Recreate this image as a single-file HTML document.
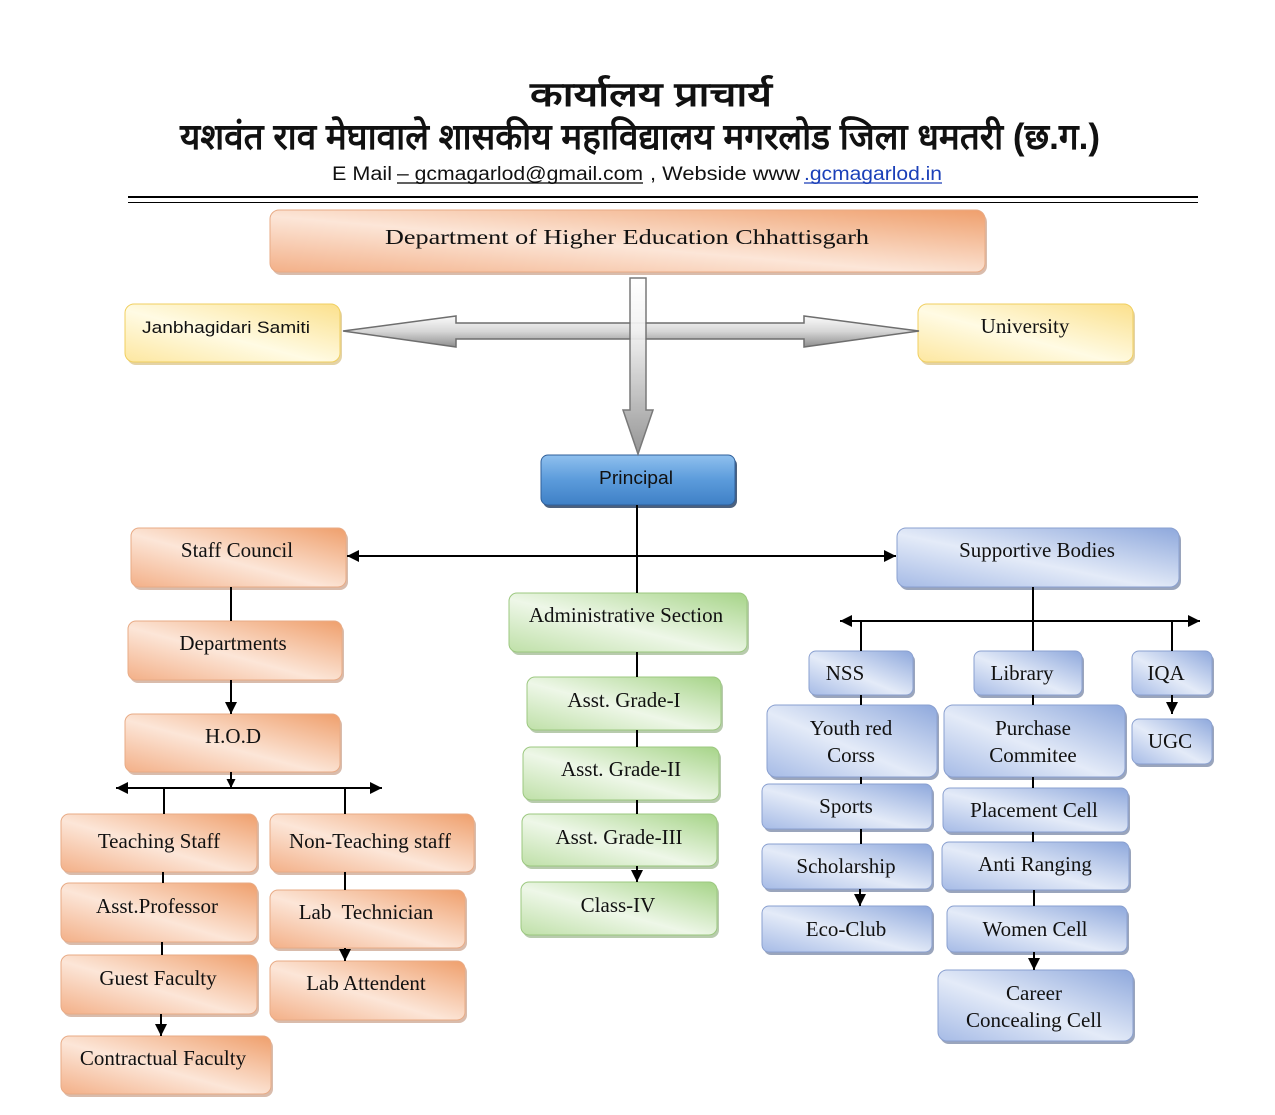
<!DOCTYPE html>
<html>
<head>
<meta charset="utf-8">
<style>
html,body{margin:0;padding:0;background:#fff;}
svg{display:block;}
.s{font-family:"Liberation Serif","DejaVu Serif",serif;font-size:21px;fill:#111;text-anchor:middle;}
.a{font-family:"Liberation Sans","DejaVu Sans",sans-serif;fill:#111;}
.ln{stroke:#000;stroke-width:2;fill:none;}
</style>
</head>
<body>
<svg width="1275" height="1115" viewBox="0 0 1275 1115" xmlns="http://www.w3.org/2000/svg">
<defs>
<linearGradient id="og" x1="0" y1="1" x2="1" y2="0">
<stop offset="0" stop-color="#f3b088"/><stop offset="0.45" stop-color="#fce6d8"/><stop offset="1" stop-color="#ef9f6c"/>
</linearGradient>
<linearGradient id="yg" x1="0" y1="1" x2="1" y2="0">
<stop offset="0" stop-color="#fde7a0"/><stop offset="0.45" stop-color="#fffbe4"/><stop offset="1" stop-color="#fbe08c"/>
</linearGradient>
<linearGradient id="bg" x1="0" y1="1" x2="1" y2="0">
<stop offset="0" stop-color="#a6bbe6"/><stop offset="0.45" stop-color="#e4ebf8"/><stop offset="1" stop-color="#8ea8dc"/>
</linearGradient>
<linearGradient id="gg" x1="0" y1="1" x2="1" y2="0">
<stop offset="0" stop-color="#bfe0a8"/><stop offset="0.45" stop-color="#eef7e8"/><stop offset="1" stop-color="#a6d488"/>
</linearGradient>
<linearGradient id="pg" x1="0" y1="0" x2="0" y2="1">
<stop offset="0" stop-color="#8fc0ee"/><stop offset="0.5" stop-color="#5b9bdb"/><stop offset="1" stop-color="#3f80c6"/>
</linearGradient>
<linearGradient id="vag" gradientUnits="userSpaceOnUse" x1="0" y1="278" x2="0" y2="455">
<stop offset="0" stop-color="#ffffff"/><stop offset="0.3" stop-color="#f2f2f2"/><stop offset="1" stop-color="#8c8c8c"/>
</linearGradient>
<linearGradient id="hag" gradientUnits="userSpaceOnUse" x1="0" y1="316" x2="0" y2="347">
<stop offset="0" stop-color="#fbfbfb"/><stop offset="0.5" stop-color="#d6d6d6"/><stop offset="1" stop-color="#8e8e8e"/>
</linearGradient>
<marker id="ar" viewBox="0 0 10 10" refX="10" refY="5" markerWidth="9" markerHeight="9" orient="auto" markerUnits="userSpaceOnUse">
<path d="M0,0 L10,5 L0,10 z" fill="#000"/>
</marker>
<marker id="ar2" viewBox="0 0 12 12" refX="12" refY="6" markerWidth="12" markerHeight="12" orient="auto" markerUnits="userSpaceOnUse">
<path d="M0,0 L12,6 L0,12 z" fill="#000"/>
</marker>
</defs>

<!-- Header -->
<text class="a" x="651" y="106" text-anchor="middle" font-size="34" font-weight="bold" textLength="242" lengthAdjust="spacingAndGlyphs">कार्यालय  प्राचार्य</text>
<text class="a" x="640" y="149" text-anchor="middle" font-size="36" font-weight="bold" textLength="920" lengthAdjust="spacingAndGlyphs">यशवंत राव मेघावाले शासकीय महाविद्यालय मगरलोड जिला धमतरी (छ.ग.)</text>
<text class="a" x="332" y="180" font-size="19" textLength="60" lengthAdjust="spacingAndGlyphs">E Mail</text>
<text class="a" x="397" y="180" font-size="19" textLength="246" lengthAdjust="spacingAndGlyphs">– gcmagarlod@gmail.com</text>
<line x1="397" y1="183" x2="643" y2="183" stroke="#000" stroke-width="1.3"/>
<text class="a" x="650" y="180" font-size="19" textLength="150" lengthAdjust="spacingAndGlyphs">, Webside www</text>
<text class="a" x="804" y="180" font-size="19" textLength="138" lengthAdjust="spacingAndGlyphs" style="fill:#1a3fb8">.gcmagarlod.in</text>
<line x1="804" y1="183" x2="942" y2="183" stroke="#1a3fb8" stroke-width="1.3"/>
<line x1="128" y1="197" x2="1198" y2="197" stroke="#000" stroke-width="2"/>
<line x1="128" y1="202.5" x2="1198" y2="202.5" stroke="#000" stroke-width="1"/>

<!-- Boxes -->
<g id="boxes">
<!-- orange -->
<g>
<rect x="272" y="213" width="715" height="62" rx="9" fill="#c9a089" opacity="0.7"/>
<rect x="270" y="210" width="715" height="62" rx="9" fill="url(#og)" stroke="#e8ab86" stroke-width="1"/>
<text class="s" x="627" y="244" font-size="26" textLength="484" lengthAdjust="spacingAndGlyphs">Department of Higher Education Chhattisgarh</text>
</g>
<g>
<rect x="133" y="531" width="215" height="59" rx="8" fill="#c9a089" opacity="0.7"/>
<rect x="131" y="528" width="215" height="59" rx="8" fill="url(#og)" stroke="#e8ab86"/>
<text class="s" x="237" y="557">Staff Council</text>
</g>
<g>
<rect x="130" y="624" width="214" height="59" rx="8" fill="#c9a089" opacity="0.7"/>
<rect x="128" y="621" width="214" height="59" rx="8" fill="url(#og)" stroke="#e8ab86"/>
<text class="s" x="233" y="650">Departments</text>
</g>
<g>
<rect x="127" y="717" width="215" height="58" rx="8" fill="#c9a089" opacity="0.7"/>
<rect x="125" y="714" width="215" height="58" rx="8" fill="url(#og)" stroke="#e8ab86"/>
<text class="s" x="233" y="743">H.O.D</text>
</g>
<g>
<rect x="63" y="817" width="196" height="58" rx="8" fill="#c9a089" opacity="0.7"/>
<rect x="61" y="814" width="196" height="58" rx="8" fill="url(#og)" stroke="#e8ab86"/>
<text class="s" x="159" y="848">Teaching Staff</text>
</g>
<g>
<rect x="272" y="817" width="204" height="58" rx="8" fill="#c9a089" opacity="0.7"/>
<rect x="270" y="814" width="204" height="58" rx="8" fill="url(#og)" stroke="#e8ab86"/>
<text class="s" x="370" y="848">Non-Teaching staff</text>
</g>
<g>
<rect x="63" y="886" width="196" height="59" rx="8" fill="#c9a089" opacity="0.7"/>
<rect x="61" y="883" width="196" height="59" rx="8" fill="url(#og)" stroke="#e8ab86"/>
<text class="s" x="157" y="913">Asst.Professor</text>
</g>
<g>
<rect x="272" y="893" width="195" height="58" rx="8" fill="#c9a089" opacity="0.7"/>
<rect x="270" y="890" width="195" height="58" rx="8" fill="url(#og)" stroke="#e8ab86"/>
<text class="s" x="366" y="919" xml:space="preserve">Lab  Technician</text>
</g>
<g>
<rect x="63" y="958" width="196" height="59" rx="8" fill="#c9a089" opacity="0.7"/>
<rect x="61" y="955" width="196" height="59" rx="8" fill="url(#og)" stroke="#e8ab86"/>
<text class="s" x="158" y="985">Guest Faculty</text>
</g>
<g>
<rect x="272" y="964" width="195" height="59" rx="8" fill="#c9a089" opacity="0.7"/>
<rect x="270" y="961" width="195" height="59" rx="8" fill="url(#og)" stroke="#e8ab86"/>
<text class="s" x="366" y="990">Lab Attendent</text>
</g>
<g>
<rect x="63" y="1039" width="210" height="58" rx="8" fill="#c9a089" opacity="0.7"/>
<rect x="61" y="1036" width="210" height="58" rx="8" fill="url(#og)" stroke="#e8ab86"/>
<text class="s" x="163" y="1065">Contractual Faculty</text>
</g>

<!-- yellow -->
<g>
<rect x="127" y="307" width="215" height="58" rx="9" fill="#d8c080" opacity="0.7"/>
<rect x="125" y="304" width="215" height="58" rx="9" fill="url(#yg)" stroke="#f0cf60"/>
<text class="a" x="226" y="333" text-anchor="middle" font-size="17" textLength="168" lengthAdjust="spacingAndGlyphs">Janbhagidari Samiti</text>
</g>
<g>
<rect x="920" y="307" width="215" height="58" rx="9" fill="#d8c080" opacity="0.7"/>
<rect x="918" y="304" width="215" height="58" rx="9" fill="url(#yg)" stroke="#f0cf60"/>
<text class="s" x="1025" y="333">University</text>
</g>

<!-- principal -->
<g>
<rect x="543" y="458" width="194" height="50" rx="7" fill="#1f3a5e" opacity="0.8"/>
<rect x="541" y="455" width="194" height="50" rx="7" fill="url(#pg)" stroke="#2f5f9a"/>
<text class="a" x="636" y="484" text-anchor="middle" font-size="18" textLength="74" lengthAdjust="spacingAndGlyphs">Principal</text>
</g>

<!-- green -->
<g>
<rect x="511" y="596" width="238" height="59" rx="8" fill="#9ab58a" opacity="0.7"/>
<rect x="509" y="593" width="238" height="59" rx="8" fill="url(#gg)" stroke="#9cc880"/>
<text class="s" x="626" y="622">Administrative Section</text>
</g>
<g>
<rect x="529" y="680" width="194" height="53" rx="8" fill="#9ab58a" opacity="0.7"/>
<rect x="527" y="677" width="194" height="53" rx="8" fill="url(#gg)" stroke="#9cc880"/>
<text class="s" x="624" y="707">Asst. Grade-I</text>
</g>
<g>
<rect x="525" y="750" width="196" height="53" rx="8" fill="#9ab58a" opacity="0.7"/>
<rect x="523" y="747" width="196" height="53" rx="8" fill="url(#gg)" stroke="#9cc880"/>
<text class="s" x="621" y="776">Asst. Grade-II</text>
</g>
<g>
<rect x="524" y="817" width="195" height="52" rx="8" fill="#9ab58a" opacity="0.7"/>
<rect x="522" y="814" width="195" height="52" rx="8" fill="url(#gg)" stroke="#9cc880"/>
<text class="s" x="619" y="844">Asst. Grade-III</text>
</g>
<g>
<rect x="523" y="885" width="196" height="53" rx="8" fill="#9ab58a" opacity="0.7"/>
<rect x="521" y="882" width="196" height="53" rx="8" fill="url(#gg)" stroke="#9cc880"/>
<text class="s" x="618" y="912">Class-IV</text>
</g>

<!-- blue -->
<g>
<rect x="899" y="531" width="282" height="59" rx="9" fill="#6f7f9f" opacity="0.7"/>
<rect x="897" y="528" width="282" height="59" rx="9" fill="url(#bg)" stroke="#8aa0d0"/>
<text class="s" x="1037" y="557">Supportive Bodies</text>
</g>
<g>
<rect x="811" y="654" width="104" height="44" rx="7" fill="#6f7f9f" opacity="0.7"/>
<rect x="809" y="651" width="104" height="44" rx="7" fill="url(#bg)" stroke="#8aa0d0"/>
<text class="s" x="845" y="680">NSS</text>
</g>
<g>
<rect x="976" y="654" width="108" height="44" rx="7" fill="#6f7f9f" opacity="0.7"/>
<rect x="974" y="651" width="108" height="44" rx="7" fill="url(#bg)" stroke="#8aa0d0"/>
<text class="s" x="1022" y="680">Library</text>
</g>
<g>
<rect x="1134" y="654" width="80" height="44" rx="7" fill="#6f7f9f" opacity="0.7"/>
<rect x="1132" y="651" width="80" height="44" rx="7" fill="url(#bg)" stroke="#8aa0d0"/>
<text class="s" x="1166" y="680">IQA</text>
</g>
<g>
<rect x="1134" y="722" width="80" height="45" rx="7" fill="#6f7f9f" opacity="0.7"/>
<rect x="1132" y="719" width="80" height="45" rx="7" fill="url(#bg)" stroke="#8aa0d0"/>
<text class="s" x="1170" y="748">UGC</text>
</g>
<g>
<rect x="769" y="708" width="170" height="72" rx="9" fill="#6f7f9f" opacity="0.7"/>
<rect x="767" y="705" width="170" height="72" rx="9" fill="url(#bg)" stroke="#8aa0d0"/>
<text class="s" x="851" y="735">Youth red</text>
<text class="s" x="851" y="762">Corss</text>
</g>
<g>
<rect x="946" y="708" width="181" height="72" rx="9" fill="#6f7f9f" opacity="0.7"/>
<rect x="944" y="705" width="181" height="72" rx="9" fill="url(#bg)" stroke="#8aa0d0"/>
<text class="s" x="1033" y="735">Purchase</text>
<text class="s" x="1033" y="762">Commitee</text>
</g>
<g>
<rect x="764" y="787" width="170" height="45" rx="7" fill="#6f7f9f" opacity="0.7"/>
<rect x="762" y="784" width="170" height="45" rx="7" fill="url(#bg)" stroke="#8aa0d0"/>
<text class="s" x="846" y="813">Sports</text>
</g>
<g>
<rect x="945" y="791" width="185" height="44" rx="7" fill="#6f7f9f" opacity="0.7"/>
<rect x="943" y="788" width="185" height="44" rx="7" fill="url(#bg)" stroke="#8aa0d0"/>
<text class="s" x="1034" y="817">Placement Cell</text>
</g>
<g>
<rect x="764" y="847" width="170" height="45" rx="7" fill="#6f7f9f" opacity="0.7"/>
<rect x="762" y="844" width="170" height="45" rx="7" fill="url(#bg)" stroke="#8aa0d0"/>
<text class="s" x="846" y="873">Scholarship</text>
</g>
<g>
<rect x="944" y="845" width="187" height="48" rx="7" fill="#6f7f9f" opacity="0.7"/>
<rect x="942" y="842" width="187" height="48" rx="7" fill="url(#bg)" stroke="#8aa0d0"/>
<text class="s" x="1035" y="871">Anti Ranging</text>
</g>
<g>
<rect x="764" y="909" width="170" height="46" rx="7" fill="#6f7f9f" opacity="0.7"/>
<rect x="762" y="906" width="170" height="46" rx="7" fill="url(#bg)" stroke="#8aa0d0"/>
<text class="s" x="846" y="936">Eco-Club</text>
</g>
<g>
<rect x="949" y="909" width="180" height="46" rx="7" fill="#6f7f9f" opacity="0.7"/>
<rect x="947" y="906" width="180" height="46" rx="7" fill="url(#bg)" stroke="#8aa0d0"/>
<text class="s" x="1035" y="936">Women Cell</text>
</g>
<g>
<rect x="940" y="973" width="195" height="71" rx="9" fill="#6f7f9f" opacity="0.7"/>
<rect x="938" y="970" width="195" height="71" rx="9" fill="url(#bg)" stroke="#8aa0d0"/>
<text class="s" x="1034" y="1000">Career</text>
<text class="s" x="1034" y="1027">Concealing Cell</text>
</g>
</g>

<!-- Big block arrows -->
<polygon points="343,331 456,316 456,323 804,323 804,316 919,331 804,347 804,339 456,339 456,347" fill="url(#hag)" stroke="#6e6e6e" stroke-width="1.5"/>
<polygon points="630,278 646,278 646,410 653,410 638,454 623,410 630,410" fill="url(#vag)" stroke="#6e6e6e" stroke-width="1.5" opacity="0.92"/>

<!-- Connectors -->
<line class="ln" x1="637" y1="505" x2="637" y2="593"/>
<line class="ln" x1="637" y1="556" x2="347" y2="556" marker-end="url(#ar2)"/>
<line class="ln" x1="637" y1="556" x2="896" y2="556" marker-end="url(#ar2)"/>

<line class="ln" x1="637" y1="652" x2="637" y2="677"/>
<line class="ln" x1="637" y1="730" x2="637" y2="747"/>
<line class="ln" x1="637" y1="800" x2="637" y2="814"/>
<line class="ln" x1="637" y1="866" x2="637" y2="882" marker-end="url(#ar2)"/>

<line class="ln" x1="231" y1="587" x2="231" y2="621"/>
<line class="ln" x1="231" y1="680" x2="231" y2="714" marker-end="url(#ar2)"/>
<line class="ln" x1="231" y1="772" x2="231" y2="788" marker-end="url(#ar)"/>
<line class="ln" x1="231" y1="788" x2="116" y2="788" marker-end="url(#ar2)"/>
<line class="ln" x1="231" y1="788" x2="382" y2="788" marker-end="url(#ar2)"/>
<line class="ln" x1="164" y1="788" x2="164" y2="814"/>
<line class="ln" x1="345" y1="788" x2="345" y2="814"/>
<line class="ln" x1="163" y1="872" x2="163" y2="883"/>
<line class="ln" x1="162" y1="942" x2="162" y2="955"/>
<line class="ln" x1="161" y1="1014" x2="161" y2="1036" marker-end="url(#ar2)"/>
<line class="ln" x1="345" y1="872" x2="345" y2="890"/>
<line class="ln" x1="345" y1="948" x2="345" y2="961" marker-end="url(#ar2)"/>

<line class="ln" x1="1033" y1="587" x2="1033" y2="651"/>
<line class="ln" x1="1033" y1="621" x2="840" y2="621" marker-end="url(#ar2)"/>
<line class="ln" x1="1033" y1="621" x2="1200" y2="621" marker-end="url(#ar2)"/>
<line class="ln" x1="861" y1="621" x2="861" y2="651"/>
<line class="ln" x1="1172" y1="621" x2="1172" y2="651"/>
<line class="ln" x1="1172" y1="695" x2="1172" y2="714" marker-end="url(#ar2)"/>
<line class="ln" x1="861" y1="695" x2="861" y2="705"/>
<line class="ln" x1="861" y1="777" x2="861" y2="784"/>
<line class="ln" x1="861" y1="829" x2="861" y2="844"/>
<line class="ln" x1="860" y1="889" x2="860" y2="906" marker-end="url(#ar2)"/>
<line class="ln" x1="1033" y1="695" x2="1033" y2="705"/>
<line class="ln" x1="1033" y1="777" x2="1033" y2="788"/>
<line class="ln" x1="1033" y1="832" x2="1033" y2="842"/>
<line class="ln" x1="1034" y1="890" x2="1034" y2="906"/>
<line class="ln" x1="1034" y1="952" x2="1034" y2="970" marker-end="url(#ar2)"/>
</svg>
</body>
</html>
